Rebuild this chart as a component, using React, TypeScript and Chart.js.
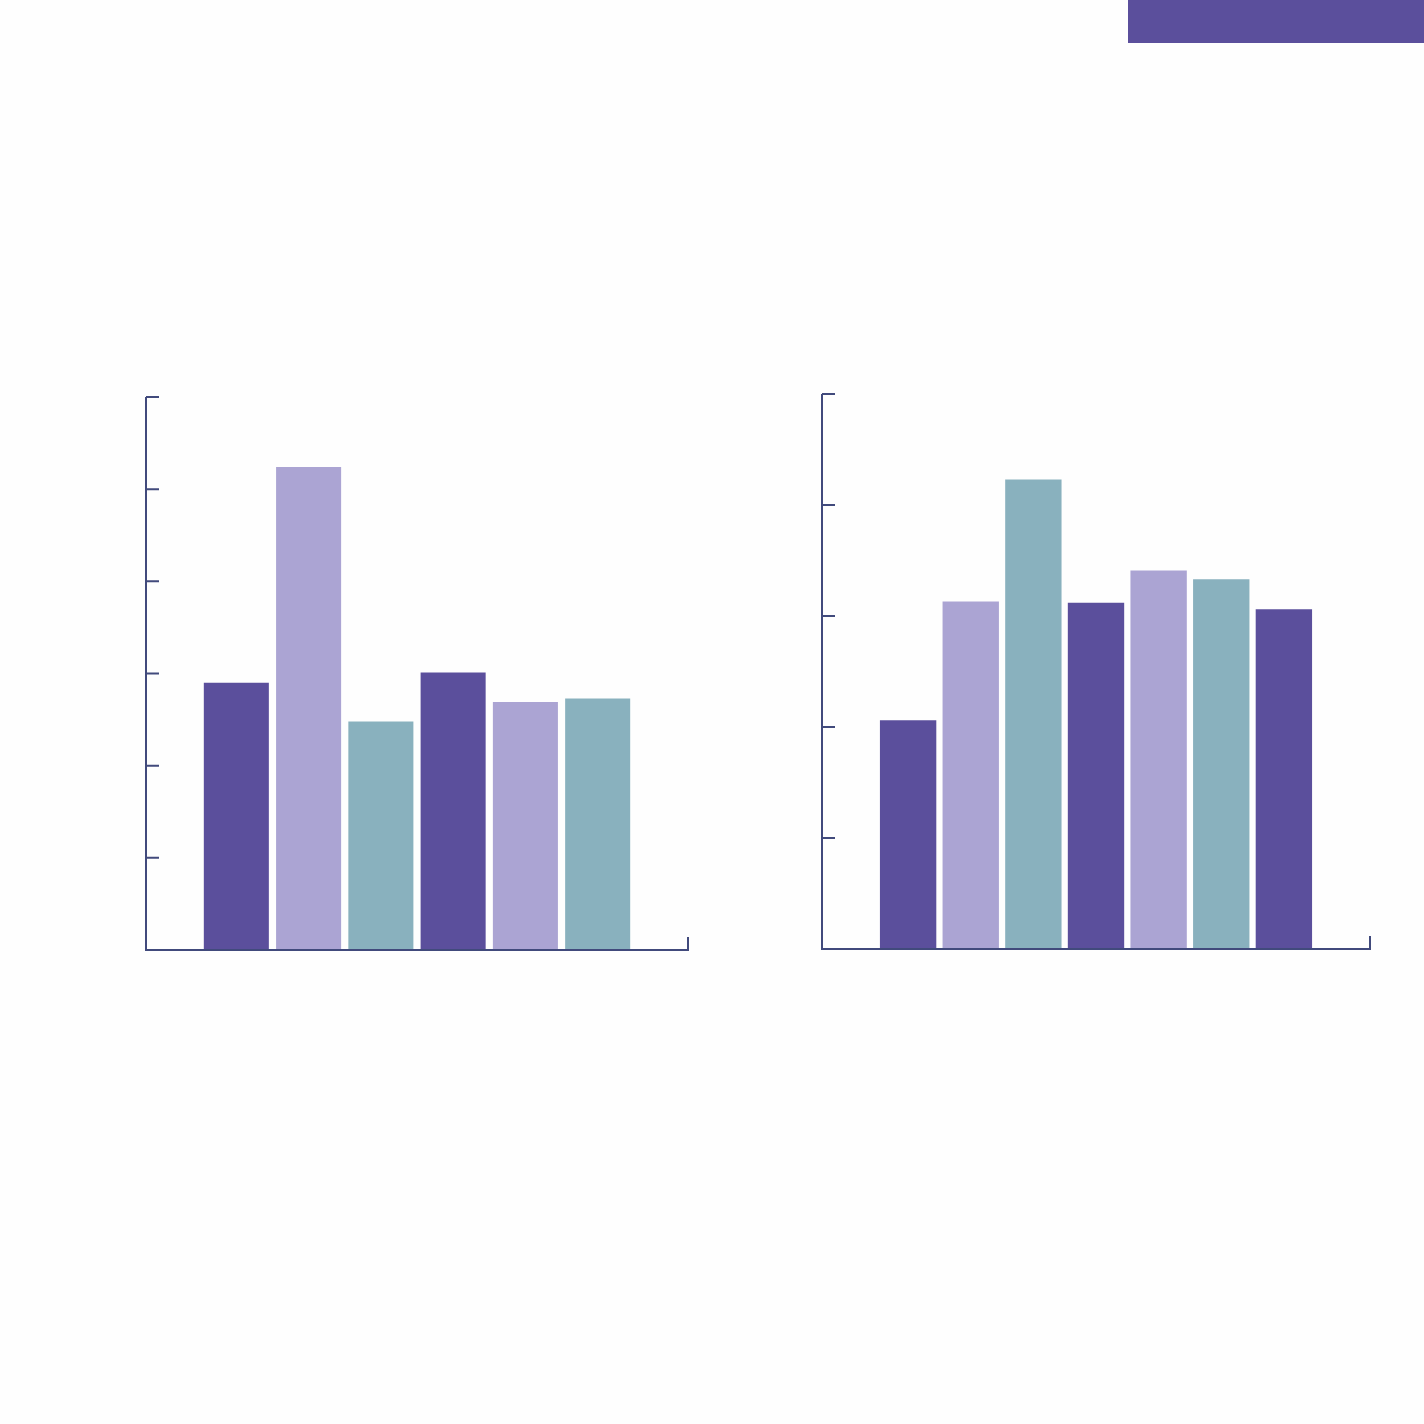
import { useEffect, useRef } from "react";
import { Chart, registerables } from "chart.js";

Chart.register(...registerables);

const DARK = "#5B4F9C";
const LIGHT = "#ABA4D3";
const TEAL = "#89B1BE";
const AXIS = "#414A7C";

const palette = [DARK, LIGHT, TEAL];

const leftValues = [29.0, 52.4, 24.8, 30.1, 26.9, 27.3];
const leftTicks = [0, 10, 20, 30, 40, 50, 60];

const rightValues = [20.6, 31.3, 42.3, 31.2, 34.1, 33.3, 30.6];
const rightTicks = [0, 10, 20, 30, 40, 50];

const TICK_LEN = 13;

// Axis lines with inward-pointing tick marks, placed through the chart's scales.
const axisFrame = {
  id: "axisFrame",
  afterDatasetsDraw(chart: any, _args: any, opts: any) {
    const { ctx, chartArea, scales } = chart;
    const y = scales.y;
    const ticks: number[] = opts.ticks;
    const left = chartArea.left;
    const right = chartArea.right;
    const bottom = y.getPixelForValue(ticks[0]);
    const top = y.getPixelForValue(ticks[ticks.length - 1]);
    ctx.save();
    ctx.strokeStyle = AXIS;
    ctx.lineWidth = 2;
    ctx.lineCap = "butt";
    ctx.beginPath();
    ctx.moveTo(left, top);
    ctx.lineTo(left, bottom + 1);
    ctx.moveTo(left - 1, bottom);
    ctx.lineTo(right + 1, bottom);
    for (const t of ticks) {
      const py = y.getPixelForValue(t);
      ctx.moveTo(left, py);
      ctx.lineTo(left + TICK_LEN, py);
    }
    ctx.moveTo(left, bottom);
    ctx.lineTo(left, bottom - TICK_LEN);
    ctx.moveTo(right, bottom + 1);
    ctx.lineTo(right, bottom - TICK_LEN);
    ctx.stroke();
    ctx.restore();
  },
};

type PanelProps = {
  values: number[];
  ticks: number[];
  left: number;
  top: number;
  width: number;
  height: number;
};

const PAD = 10;

function BarPanel({ values, ticks, left, top, width, height }: PanelProps) {
  const ref = useRef<HTMLCanvasElement | null>(null);

  useEffect(() => {
    if (!ref.current) return;
    const chart = new Chart(ref.current, {
      type: "bar",
      data: {
        labels: [""],
        datasets: values.map((v, i) => ({
          label: String(i + 1),
          data: [v],
          backgroundColor: palette[i % palette.length],
          borderWidth: 0,
          categoryPercentage: 0.8,
          barPercentage: 0.9,
        })),
      },
      options: {
        responsive: false,
        animation: false,
        layout: { padding: PAD },
        plugins: {
          legend: { display: false },
          tooltip: { enabled: false },
          axisFrame: { ticks },
        } as any,
        scales: {
          x: { display: false },
          y: { display: false, min: ticks[0], max: ticks[ticks.length - 1] },
        },
      },
      plugins: [axisFrame],
    });
    return () => chart.destroy();
  }, [values, ticks]);

  const w = width + PAD * 2;
  const h = height + PAD * 2;
  return (
    <canvas
      ref={ref}
      width={w}
      height={h}
      style={{
        position: "absolute",
        left: left - PAD,
        top: top - PAD,
        width: w,
        height: h,
      }}
    />
  );
}

export default function App() {
  return (
    <div
      style={{
        position: "fixed",
        left: 0,
        top: 0,
        width: 1424,
        height: 1424,
        background: "#FEFEFE",
        overflow: "hidden",
      }}
    >
      <div
        style={{
          position: "absolute",
          left: 1128,
          top: 0,
          width: 296,
          height: 43,
          background: DARK,
        }}
      />
      <BarPanel values={leftValues} ticks={leftTicks} left={146} top={397} width={542} height={553} />
      <BarPanel values={rightValues} ticks={rightTicks} left={822} top={394} width={548} height={555} />
    </div>
  );
}
